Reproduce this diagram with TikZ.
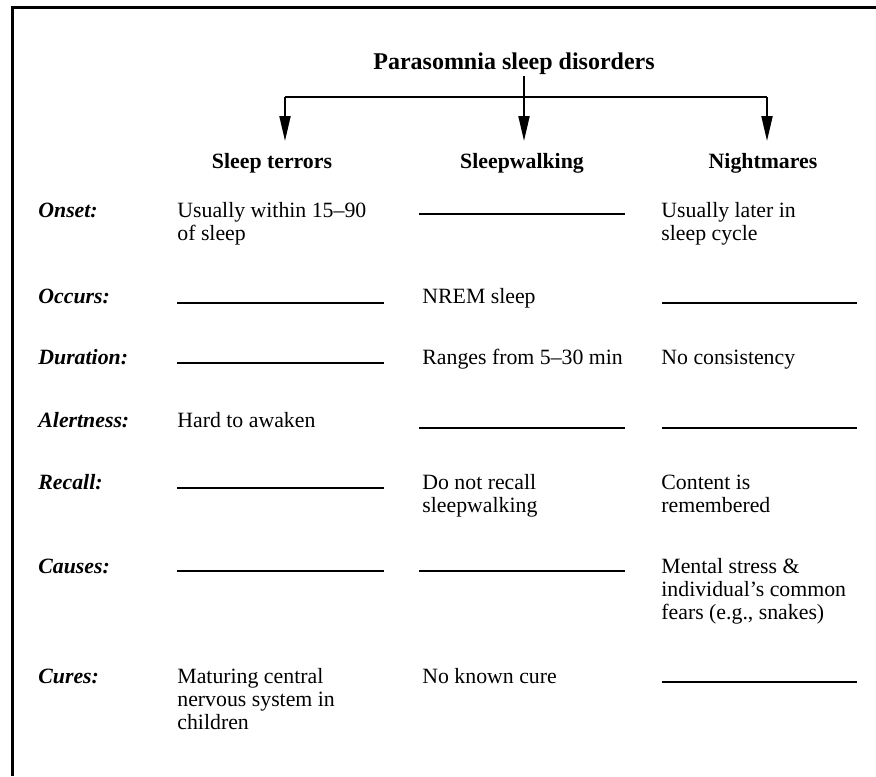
\documentclass[tikz,border=0pt]{standalone}
\usepackage{fontspec}
\setmainfont{Liberation Serif}
\usetikzlibrary{arrows.meta}
\begin{document}
\begin{tikzpicture}[x=0.5pt,y=-0.5pt,
 cell/.style={anchor=base west,inner sep=0pt,font=\fontsize{10.9}{11.6}\selectfont},
 rowlab/.style={anchor=base west,inner sep=0pt,font=\fontsize{10.9}{11.6}\selectfont\bfseries\itshape},
 head/.style={anchor=base,inner sep=0pt,font=\fontsize{10.9}{11.6}\selectfont\bfseries},
 titlestyle/.style={anchor=base,inner sep=0pt,font=\fontsize{12}{14}\selectfont\bfseries},
 conn/.style={line width=1pt},
 arr/.style={line width=1pt,-{Triangle[length=12.5pt,width=5.5pt]}},
 blank/.style={line width=1pt},
 frame/.style={line width=1.5pt}]
\useasboundingbox (0,0) rectangle (876,776);
% frame
\draw[frame] (876,7) -- (12,7) -- (12,776);
% title and headers
\node[titlestyle] (title) at (514,69) {Parasomnia sleep disorders};
\node[head] (st) at (272,168) {Sleep terrors};
\node[head] (sw) at (522,168) {Sleepwalking};
\node[head] (nm) at (763,168) {Nightmares};
% connectors
\coordinate (top) at (524,76);
\coordinate (jm) at (524,97);
\coordinate (jl) at (285,97);
\coordinate (jr) at (767,97);
\coordinate (tl) at (285,141);
\coordinate (tm) at (524,141);
\coordinate (tr) at (767,141);
\draw[conn] (jl) -- (jr);
\draw[arr] (top) -- (tm);
\draw[arr] (jl) -- (tl);
\draw[arr] (jr) -- (tr);
% row labels
\node[rowlab] (r1) at (38,217) {Onset:};
\node[rowlab] (r2) at (38,303) {Occurs:};
\node[rowlab] (r3) at (38,364) {Duration:};
\node[rowlab] (r4) at (38,427) {Alertness:};
\node[rowlab] (r5) at (38,489) {Recall:};
\node[rowlab] (r6) at (38,573) {Causes:};
\node[rowlab] (r7) at (38,683) {Cures:};
% cells
\node[cell] (c11) at (177,217) {\begin{tabular}[t]{@{}l@{}}Usually within 15--90\\of sleep\end{tabular}};
\node[cell] (c13) at (661,217) {\begin{tabular}[t]{@{}l@{}}Usually later in\\sleep cycle\end{tabular}};
\node[cell] (c22) at (422,303) {NREM sleep};
\node[cell] (c32) at (422,364) {Ranges from 5--30 min};
\node[cell] (c33) at (661,364) {No consistency};
\node[cell] (c41) at (177,427) {Hard to awaken};
\node[cell] (c52) at (422,489) {\begin{tabular}[t]{@{}l@{}}Do not recall\\sleepwalking\end{tabular}};
\node[cell] (c53) at (661,489) {\begin{tabular}[t]{@{}l@{}}Content is\\remembered\end{tabular}};
\node[cell] (c63) at (661,573) {\begin{tabular}[t]{@{}l@{}}Mental stress \&\\individual's common\\fears (e.g., snakes)\end{tabular}};
\node[cell] (c71) at (177,683) {\begin{tabular}[t]{@{}l@{}}Maturing central\\nervous system in\\children\end{tabular}};
\node[cell] (c72) at (422,683) {No known cure};
% blanks
\draw[blank] (419,214) -- (625,214);
\draw[blank] (177,303) -- (384,303);
\draw[blank] (662,303) -- (857,303);
\draw[blank] (177,363) -- (384,363);
\draw[blank] (419,428) -- (625,428);
\draw[blank] (662,428) -- (857,428);
\draw[blank] (177,488) -- (384,488);
\draw[blank] (177,571) -- (384,571);
\draw[blank] (419,571) -- (625,571);
\draw[blank] (662,682) -- (857,682);
\end{tikzpicture}
\end{document}
